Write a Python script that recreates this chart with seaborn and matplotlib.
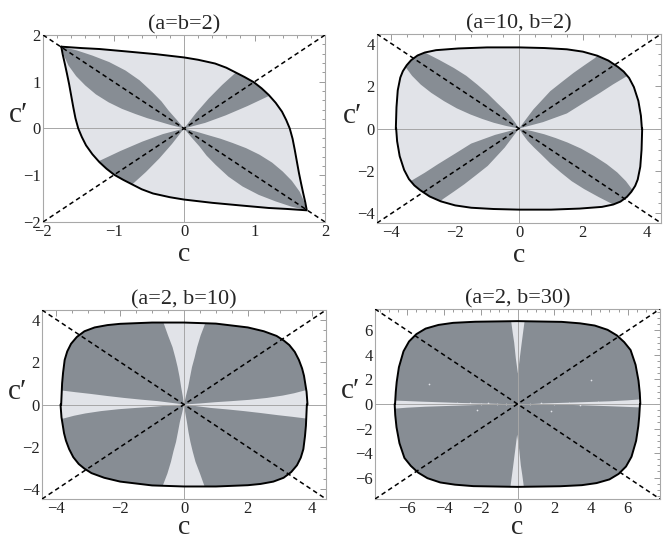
"""Region plots of allowed (c, c') for four (a, b) settings, Mathematica look."""

import matplotlib
matplotlib.use("Agg")
import matplotlib.pyplot as plt
from matplotlib.ticker import MultipleLocator
import seaborn as sns

# ---- data (c, c') ----
TITLES = ["(a=b=2)", "(a=10, b=2)", "(a=2, b=10)", "(a=2, b=30)"]
LIMITS = [2.0, 4.45, 4.45, 7.75]
TICKS = [[-2, -1, 0, 1, 2], [-4, -2, 0, 2, 4], [-4, -2, 0, 2, 4], [-6, -4, -2, 0, 2, 4, 6]]
MINOR = [0.2, 0.5, 0.5, 0.5]

# upper half of each outer boundary (the lower half is the point reflection)
P1_EDGE = [(-1.74, 1.75), (-1.45, 1.72), (-1.2, 1.70), (-0.83, 1.65), (-0.4, 1.59), (0, 1.52),
           (0.2, 1.47), (0.44, 1.39), (0.6, 1.30), (0.73, 1.20), (0.86, 1.10), (0.99, 0.99),
           (1.10, 0.86), (1.20, 0.72), (1.30, 0.55), (1.39, 0.36), (1.45, 0.18), (1.50, 0.0),
           (1.54, -0.22), (1.57, -0.45), (1.60, -0.70), (1.63, -0.95), (1.66, -1.17),
           (1.69, -1.38), (1.72, -1.58), (1.74, -1.74)]
P2_EDGE = [(-3.86, 0), (-3.84, 1.0), (-3.80, 1.8), (-3.72, 2.4), (-3.64, 2.7), (-3.52, 2.98),
           (-3.38, 3.22), (-3.18, 3.44), (-2.95, 3.58), (-2.6, 3.69), (-1.9, 3.77), (-1.0, 3.82),
           (0, 3.82), (0.8, 3.79), (1.5, 3.73), (2.0, 3.62), (2.45, 3.43), (2.8, 3.2),
           (3.1, 2.9), (3.28, 2.68), (3.45, 2.38), (3.6, 1.95), (3.74, 1.3), (3.82, 0.6),
           (3.85, 0)]
P3_EDGE = [(-3.85, 0), (-3.82, 1.0), (-3.79, 1.5), (-3.74, 2.1), (-3.66, 2.5), (-3.54, 2.86),
           (-3.36, 3.18), (-3.12, 3.45), (-2.8, 3.63), (-2.4, 3.74), (-2.0, 3.80), (-1.0, 3.86),
           (0, 3.86), (1.0, 3.81), (2.0, 3.63), (2.5, 3.45), (2.9, 3.23), (3.12, 3.02),
           (3.3, 2.80), (3.47, 2.48), (3.6, 2.10), (3.7, 1.7), (3.76, 1.35), (3.84, 0.6),
           (3.87, 0)]
P4_EDGE = [(-6.66, 0), (-6.62, 1.0), (-6.57, 1.8), (-6.45, 3.0), (-6.2, 4.3), (-5.9, 5.1),
           (-5.5, 5.7), (-5.0, 6.15), (-4.3, 6.45), (-3.5, 6.62), (-2.3, 6.71), (0, 6.76),
           (2.4, 6.70), (3.4, 6.58), (4.2, 6.40), (4.9, 6.05), (5.4, 5.6), (5.8, 5.05),
           (6.15, 4.4), (6.42, 3.2), (6.58, 1.9), (6.65, 0.9), (6.68, 0)]

# dark lobes for panels 1 and 2 (each also drawn point-reflected)
P1_PETAL = [(-1.74, 1.75), (-1.52, 1.67), (-1.30, 1.56), (-1.06, 1.42), (-0.83, 1.24),
            (-0.63, 1.03), (-0.45, 0.78), (-0.32, 0.58), (-0.22, 0.385), (-0.10, 0.18), (0, 0),
            (-0.18, 0.07), (-0.36, 0.15), (-0.52, 0.22), (-0.69, 0.31), (-0.88, 0.42),
            (-1.07, 0.56), (-1.25, 0.73), (-1.40, 0.92), (-1.53, 1.12), (-1.64, 1.35),
            (-1.70, 1.55)]
P1_WEDGE = [(0, 0), (0.17, 0.33), (0.35, 0.64), (0.54, 0.93), (0.73, 1.19), (0.85, 1.38),
            (1.4, 0.8), (1.21, 0.70), (0.90, 0.48), (0.59, 0.28), (0.30, 0.12)]
P2_PETAL = [(0, 0), (-0.4, 0.12), (-0.79, 0.27), (-1.15, 0.45), (-1.52, 0.66), (-1.95, 0.95),
            (-2.35, 1.29), (-2.75, 1.68), (-3.08, 2.07), (-3.35, 2.48), (-3.55, 2.88),
            (-3.75, 3.23), (-3.25, 3.82), (-2.93, 3.56), (-2.5, 3.23), (-2.04, 2.85),
            (-1.65, 2.48), (-1.31, 2.07), (-0.98, 1.64), (-0.69, 1.21), (-0.46, 0.88),
            (-0.27, 0.58), (-0.12, 0.28)]
P2_WEDGE = [(0, 0), (0.45, 0.9), (0.98, 1.76), (1.35, 2.2), (1.71, 2.62), (2.05, 2.98),
            (2.39, 3.33), (2.6, 3.65), (3.75, 2.75), (3.375, 2.46), (2.95, 2.08), (2.54, 1.68),
            (2.0, 1.18), (1.5, 0.71), (0.75, 0.3)]

# light gaps for panels 3 and 4 (each also drawn point-reflected)
P3_CUSP = [(-0.68, 4.1), (-0.64, 3.84), (-0.5, 3.25), (-0.36, 2.70), (-0.27, 2.2), (-0.2, 1.76),
           (-0.14, 1.3), (-0.09, 0.82), (-0.04, 0.4), (0, 0), (0.06, 0.4), (0.13, 0.82),
           (0.19, 1.3), (0.25, 1.76), (0.33, 2.2), (0.41, 2.70), (0.52, 3.25), (0.65, 3.76),
           (0.72, 4.1)]
P3_BAND = [(0, 0), (0.5, 0.05), (0.99, 0.11), (1.5, 0.16), (2.04, 0.22), (2.6, 0.31),
           (3.09, 0.42), (3.45, 0.53), (3.78, 0.66), (4.1, 0.72), (4.1, -0.72), (3.83, -0.66),
           (3.4, -0.58), (2.93, -0.50), (2.4, -0.40), (1.88, -0.31), (1.35, -0.23),
           (0.83, -0.16), (0.4, -0.08)]
P4_CUSP = [(-0.36, 7.0), (-0.34, 6.7), (-0.26, 5.8), (-0.18, 5.0), (-0.09, 3.7), (0.02, 2.5),
           (0.12, 3.7), (0.23, 5.0), (0.30, 5.8), (0.38, 6.7), (0.40, 7.0)]
P4_BAND = [(0.8, 0), (1.5, 0.05), (3.0, 0.12), (5.0, 0.22), (6.0, 0.3), (6.7, 0.38), (7.0, 0.4),
           (7.0, -0.3), (6.7, -0.28), (6.0, -0.24), (5.0, -0.18), (3.0, -0.08), (1.5, -0.03)]
P4_SPECKS = [(-2.6, 0.05), (-2.0, -0.02), (-1.6, 0.06), (-1.1, 0.0), (-0.6, 0.04), (0.7, -0.03),
             (1.3, 0.05), (2.0, 0.02), (2.8, 0.06), (3.4, -0.05), (4.4, 0.18), (-3.3, 0.1),
             (-4.8, 1.66), (4.0, 1.93), (-2.2, -0.5), (1.8, -0.6)]

DARK = "#878d94"
LIGHT = "#e1e3e8"
SERIF = ["Liberation Serif", "DejaVu Serif"]


def reflect(pts):
    return [(-c, -d) for c, d in pts]


def closed(half):
    return half + reflect(half)


def fill(ax, pts, color, clip=None, z=1):
    patch = ax.fill([p[0] for p in pts], [p[1] for p in pts], color=color, lw=0, zorder=z)[0]
    if clip is not None:
        patch.set_clip_path(clip)
    return patch


sns.set_style("white")
plt.rcParams["font.family"] = SERIF

fig = plt.figure(figsize=(6.7, 5.4), dpi=100)
boxes = [[0.0642, 0.5889, 0.4209, 0.3463], [0.5627, 0.5870, 0.4239, 0.3500],
         [0.0627, 0.0759, 0.4239, 0.3500], [0.5597, 0.0759, 0.4254, 0.3519]]
xlabel_y = [-0.172, -0.172, -0.150, -0.150]

edges = [P1_EDGE, P2_EDGE, P3_EDGE, P4_EDGE]
lobes = [[P1_PETAL, P1_WEDGE], [P2_PETAL, P2_WEDGE], [P3_CUSP, P3_BAND], [P4_CUSP, P4_BAND]]

for i, box in enumerate(boxes):
    ax = fig.add_axes(box)
    lim = LIMITS[i]
    base, over = (LIGHT, DARK) if i < 2 else (DARK, LIGHT)

    outline = closed(edges[i])
    region = fill(ax, outline, base, z=1)
    for shape in lobes[i]:
        fill(ax, shape, over, clip=region, z=2)
        fill(ax, reflect(shape), over, clip=region, z=2)
    if i == 3:
        ax.scatter([p[0] for p in P4_SPECKS], [p[1] for p in P4_SPECKS], s=1.5,
                   color=LIGHT, lw=0, zorder=2.5)

    # zero axes
    ax.axhline(0, color="#a6a6a6", lw=0.7, zorder=3)
    ax.axvline(0, color="#a6a6a6", lw=0.7, zorder=3)

    ring = outline + [outline[0]]
    sns.lineplot(x=[p[0] for p in ring], y=[p[1] for p in ring], sort=False,
                 estimator=None, color="black", lw=1.4, ax=ax, zorder=4)

    # dashed diagonals c' = +/- c
    for s in (1, -1):
        sns.lineplot(x=[-lim, lim], y=[-s * lim, s * lim], sort=False, estimator=None,
                     color="black", lw=1.1, ax=ax, zorder=5, linestyle=(0, (3, 2.2)))

    ax.set_xlim(-lim, lim)
    ax.set_ylim(-lim, lim)
    ax.set_xticks(TICKS[i])
    ax.set_yticks(TICKS[i])
    ax.xaxis.set_minor_locator(MultipleLocator(MINOR[i]))
    ax.yaxis.set_minor_locator(MultipleLocator(MINOR[i]))
    ax.tick_params(which="both", direction="in", top=True, right=True,
                   color="#9a9a9a", width=0.7, labelsize=12, labelcolor="#222222", pad=1.5)
    ax.tick_params(which="major", length=4)
    ax.tick_params(which="minor", length=2)
    for sp in ax.spines.values():
        sp.set_color("#a8a8a8")
        sp.set_linewidth(0.8)

    ax.set_title(TITLES[i], fontsize=16, pad=4)
    ax.set_xlabel("c", fontsize=20)
    ax.set_ylabel("c′", fontsize=21, rotation=0)
    ax.xaxis.label.set_va("center")
    ax.yaxis.label.set_ha("center")
    ax.xaxis.set_label_coords(0.5, xlabel_y[i])
    ax.yaxis.set_label_coords(-0.085, 0.5)

fig.savefig("out.png", dpi=100)
